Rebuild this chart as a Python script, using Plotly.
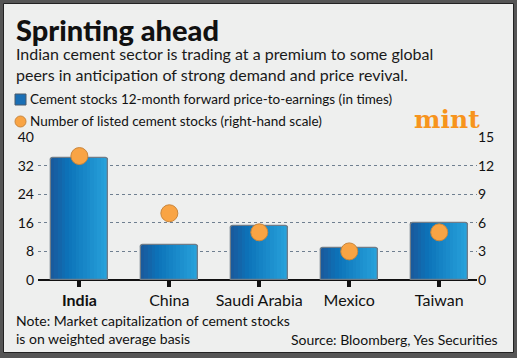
import plotly.graph_objects as go

# ---- data ----
countries = ["India", "China", "Saudi Arabia", "Mexico", "Taiwan"]
tick_labels = ["<b>India</b>", "China", "Saudi Arabia", "Mexico", "Taiwan"]
pe_ratio = [34.0, 9.8, 15.0, 9.0, 16.0]
num_stocks = [13, 7, 5, 3, 5]
left_ticks = [0, 8, 16, 24, 32, 40]
right_ticks = [0, 3, 6, 9, 12, 15]

W, H = 517, 358
L, R, T, B = 38, 40, 137, 78
PW, PH = W - L - R, H - T - B

def px(x):
    return (x - L) / PW

def py(y):
    return (H - B - y) / PH

BAR_W = 0.633
N = 16
stops = [(0.0, (26, 88, 154)), (0.3, (12, 115, 185)), (1.0, (40, 163, 220))]

def grad(t):
    for (t0, c0), (t1, c1) in zip(stops[:-1], stops[1:]):
        if t <= t1:
            f = (t - t0) / (t1 - t0)
            return "rgb(%d,%d,%d)" % tuple(round(a + (b - a) * f) for a, b in zip(c0, c1))
    return "rgb(%d,%d,%d)" % stops[-1][1]

fig = go.Figure()
xs = list(range(len(countries)))
for i in range(N):
    fig.add_trace(go.Bar(
        x=xs, y=pe_ratio, width=BAR_W / N + 0.004, offset=-BAR_W / 2 + i * BAR_W / N,
        marker=dict(color=grad((i + 0.5) / N), line=dict(width=0)),
        showlegend=False, hoverinfo="skip"))
fig.add_trace(go.Bar(
    x=xs, y=pe_ratio, width=BAR_W, offset=-BAR_W / 2,
    marker=dict(color="rgba(0,0,0,0)", line=dict(color="#6f7c88", width=1.3), cornerradius=3),
    showlegend=False, name="P/E"))
fig.add_trace(go.Scatter(
    x=xs, y=num_stocks, yaxis="y2", mode="markers",
    marker=dict(size=17, color="#F9A444", line=dict(color="#C9863C", width=1)),
    showlegend=False, cliponaxis=False, name="Listed stocks"))

font_main = "Lato, 'Open Sans', sans-serif"
ann = []
ann.append(dict(text="Sprinting ahead", x=px(14), y=py(10), xanchor="left", yanchor="top",
                font=dict(size=29, color="#111", family=font_main, weight=900)))
ann.append(dict(text="Indian cement sector is trading at a premium to some global<br>peers in anticipation of strong demand and price revival.",
                x=px(14), y=py(42), xanchor="left", yanchor="top", align="left",
                font=dict(size=16, color="#1a1a1a", family=font_main)))
ann.append(dict(text="Cement stocks 12-month forward price-to-earnings (in times)",
                x=px(28), y=py(99), xanchor="left", yanchor="middle",
                font=dict(size=13.5, color="#111", family=font_main)))
ann.append(dict(text="Number of listed cement stocks (right-hand scale)",
                x=px(28), y=py(121), xanchor="left", yanchor="middle",
                font=dict(size=13.5, color="#111", family=font_main)))
ann.append(dict(text="<b>mint</b>", x=px(447), y=py(120), xanchor="center", yanchor="middle",
                font=dict(size=25, color="#F7941D", family="'DejaVu Serif', serif")))
ann.append(dict(text="Note: Market capitalization of cement stocks<br>is on weighted average basis",
                x=px(14), y=py(310), xanchor="left", yanchor="top", align="left",
                font=dict(size=14, color="#111", family=font_main)))
ann.append(dict(text="Source: Bloomberg, Yes Securities",
                x=px(500), y=py(339), xanchor="right", yanchor="middle",
                font=dict(size=14, color="#111", family=font_main)))
for a in ann:
    a.update(xref="paper", yref="paper", showarrow=False)

shapes = [
    dict(type="rect", xref="paper", yref="paper", x0=px(3.5), x1=px(513.5), y0=py(3.5), y1=py(352.5),
         fillcolor="#eeefee", line=dict(color="#222", width=1), layer="below"),
    dict(type="rect", xref="paper", yref="paper", x0=px(15), x1=px(26), y0=py(94), y1=py(105),
         fillcolor="#1a6fb5", line=dict(color="#4a5a6a", width=1)),
    dict(type="circle", xref="paper", yref="paper", x0=px(15), x1=px(26), y0=py(116), y1=py(127),
         fillcolor="#F9A444", line=dict(color="#C9863C", width=1)),
]

fig.update_layout(
    width=W, height=H, margin=dict(l=L, r=R, t=T, b=B),
    paper_bgcolor="#555555", plot_bgcolor="rgba(0,0,0,0)",
    barmode="overlay", bargap=0,
    annotations=ann, shapes=shapes,
    font=dict(family=font_main, color="#111"),
    xaxis=dict(range=[-0.46, 4.42], tickvals=xs, ticktext=tick_labels, showgrid=False,
               zeroline=False, showline=False, ticks="outside", ticklen=6, tickwidth=4,
               tickcolor="#111", tickfont=dict(size=16, color="#111")),
    yaxis=dict(range=[0, 40], tickvals=left_ticks, showgrid=True, gridcolor="#6f7f90",
               griddash="dot", gridwidth=1, zeroline=True, zerolinecolor="#111", zerolinewidth=2,
               tickfont=dict(size=14, color="#111"), showline=False, ticklabelstandoff=3),
    yaxis2=dict(range=[0, 15], tickvals=right_ticks, overlaying="y", side="right",
                showgrid=False, zeroline=False, tickfont=dict(size=14, color="#111")),
)

fig.write_html("out.html", config={"displayModeBar": False},
               post_script="document.body.style.margin='0';document.body.style.padding='0';")
